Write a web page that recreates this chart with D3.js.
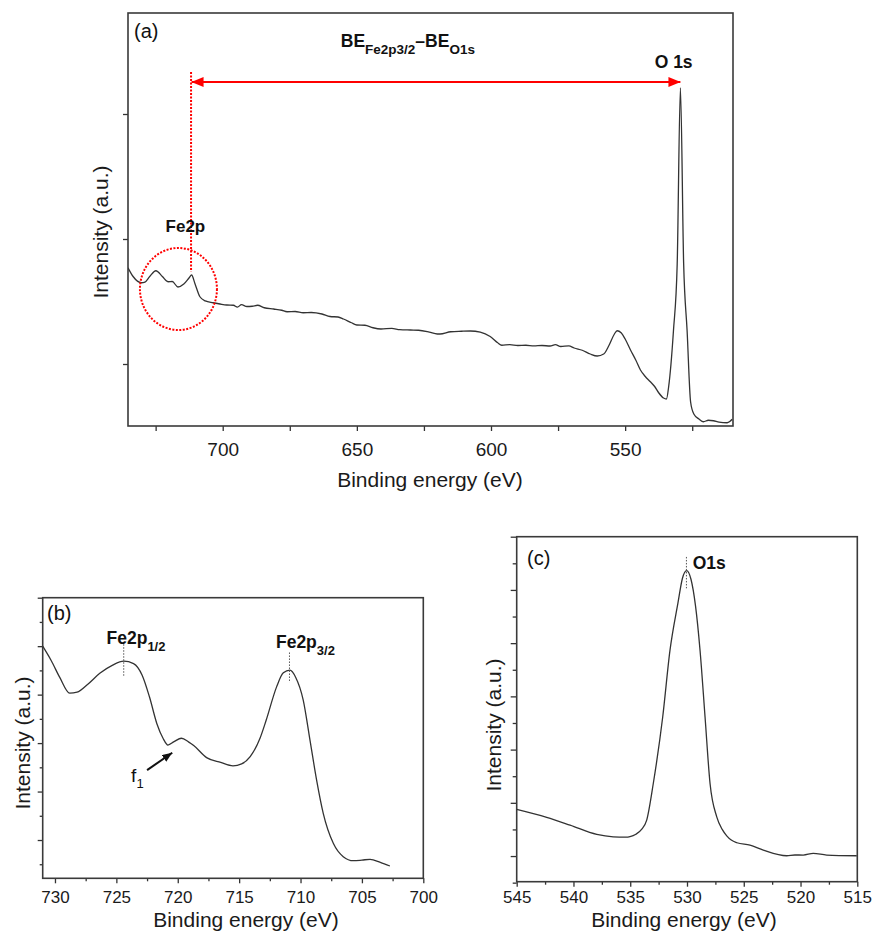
<!DOCTYPE html>
<html><head><meta charset="utf-8">
<script src="https://cdn.jsdelivr.net/npm/d3@7"></script>
<style>body{margin:0;background:#fff}text{font-family:"Liberation Sans",Arial,Helvetica,sans-serif}</style>
</head><body>
<svg id="chart" width="877" height="932"></svg>
<script>
// ---- Panel (a): survey spectrum ----
const surveyEnergy = [735.3,733.4,730.3,729.0,727.2,724.9,722.5,720.4,718.8,716.7,714.5,712.5,711.6,710.3,708.5,706.5,703.6,701,698.5,696,694.5,693,691,689,687,684.5,681,678,676,673,670,667,663,660,657,655,652,650,647,644,641,637,634,630,627,623,620,619,615,611,607.7,604,600.3,597.5,596,593,590,587,584,581,578,576,574,571,569,566,563,560.4,558,556,554,553,551.5,550,548,546,544.3,542.5,540.6,539,537.5,535.7,534.6,533.8,532.0,530.6,529.4,528.2,526.9,525.6,524.4,522.5,520.8,519,517.1,515,512,511,510.1];
const surveyIntensity = [1.77,1.70,1.65,1.655,1.70,1.746,1.70,1.658,1.66,1.616,1.64,1.69,1.712,1.64,1.538,1.505,1.49,1.48,1.472,1.47,1.455,1.475,1.46,1.462,1.47,1.45,1.44,1.43,1.418,1.42,1.41,1.412,1.40,1.38,1.376,1.36,1.33,1.312,1.31,1.29,1.28,1.285,1.275,1.272,1.27,1.255,1.24,1.24,1.258,1.262,1.264,1.255,1.22,1.17,1.15,1.155,1.148,1.15,1.145,1.148,1.144,1.155,1.14,1.145,1.128,1.11,1.08,1.064,1.08,1.15,1.24,1.266,1.25,1.2,1.112,1.03,0.952,0.90,0.858,0.82,0.77,0.728,0.72,0.816,1.264,1.80,3.208,1.808,1.264,0.696,0.60,0.56,0.538,0.55,0.546,0.535,0.530,0.54,0.558];
const surveyXTicks = [700,650,600,550];
const surveyXMinor = [725,675,625,575,525];
const surveyYTicks = [1,2,3];

// ---- Panel (b): Fe2p region ----
const fe2pEnergy = [731.0,730.3,729.6,728.8,728.2,727.3,726.35,725.3,724.4,723.6,722.9,722.3,721.7,721.2,720.8,720.3,719.7,719.1,718.7,717.65,716.5,715.5,714.8,714.1,713.3,712.8,711.95,711.4,710.86,710.4,709.78,709.23,708.69,708.15,707.33,706.52,705.7,705.0,704.34,703.5,702.72];
const fe2pIntensity = [5.00,4.70,4.35,4.03,4.05,4.22,4.44,4.61,4.69,4.64,4.40,3.95,3.40,3.10,2.96,3.03,3.10,3.02,2.95,2.70,2.60,2.53,2.57,2.72,3.10,3.47,4.16,4.45,4.505,4.36,3.887,3.062,2.237,1.551,0.932,0.656,0.573,0.585,0.602,0.54,0.464];
const fe2pXTicks = [730,725,720,715,710,705,700];
const fe2pXMinor = [727.5,722.5,717.5,712.5,707.5,702.5];
const fe2pYTicks = [1,2,3,4,5,6];
const fe2pYMinor = [0.5,1.5,2.5,3.5,4.5,5.5];

// ---- Panel (c): O1s region ----
const o1sEnergy = [545,542.36,540.3,537.95,536.5,535.4,535.02,534.5,534.0,533.55,532.97,532.14,531.5,530.8,530.4,530.03,529.65,529.25,528.85,528.41,527.97,527.38,526.9,526.5,526.1,525.6,524.45,523.28,521.22,520.5,519.76,518.88,517.7,515.05];
const o1sIntensity = [1.876,1.726,1.581,1.407,1.362,1.355,1.365,1.41,1.5,1.675,2.363,3.612,4.863,5.75,6.22,6.363,6.2,5.7,4.863,3.612,2.363,1.737,1.5,1.38,1.3,1.25,1.206,1.113,1.006,1.02,1.019,1.051,1.019,1.006];
const o1sXTicks = [545,540,535,530,525,520,515];
const o1sXMinor = [542.5,537.5,532.5,527.5,522.5,517.5];
const o1sYTicks = [1,2,3,4,5,6,7];
const o1sYMinor = [0.5,1.5,2.5,3.5,4.5,5.5,6.5];

const svg = d3.select("#chart");
const defs = svg.append("defs");
function marker(id, color, orient){
  defs.append("marker").attr("id",id).attr("viewBox","0 0 12 10").attr("refX",12).attr("refY",5)
    .attr("markerUnits","userSpaceOnUse").attr("markerWidth",12).attr("markerHeight",10).attr("orient",orient)
    .append("path").attr("d","M0,0L12,5L0,10z").attr("fill",color);
}
marker("redEnd","#ff0000","auto");
marker("redStart","#ff0000","auto-start-reverse");
defs.append("marker").attr("id","blkEnd").attr("viewBox","0 0 10 8").attr("refX",10).attr("refY",4)
  .attr("markerUnits","userSpaceOnUse").attr("markerWidth",10).attr("markerHeight",8).attr("orient","auto")
  .append("path").attr("d","M0,0L10,4L0,8z").attr("fill","#111");

function panel(c){
  const g = svg.append("g");
  const x = d3.scaleLinear().domain(c.xDomain).range([c.left,c.right]);
  const y = d3.scaleLinear().domain(c.yDomain).range([c.bottom,c.top]);
  const id = "clip"+c.name;
  defs.append("clipPath").attr("id",id).append("rect")
    .attr("x",c.left).attr("y",c.top).attr("width",c.right-c.left).attr("height",c.bottom-c.top);
  const xa = g.append("g").attr("transform",`translate(0,${c.bottom})`)
    .call(d3.axisBottom(x).tickValues(c.xTicks).tickSize(c.xTickLen).tickSizeOuter(0).tickPadding(c.xPad).tickFormat(d3.format("d")));
  xa.selectAll("text").attr("font-size",c.tickFont).attr("fill","#1a1a1a");
  if(c.xMinor){
    g.append("g").attr("transform",`translate(0,${c.bottom})`)
      .call(d3.axisBottom(x).tickValues(c.xMinor).tickSize(c.xMinorLen).tickSizeOuter(0).tickFormat(""));
  }
  g.append("g").attr("transform",`translate(${c.left},0)`)
    .call(d3.axisLeft(y).tickValues(c.yTicks).tickSize(c.yTickLen).tickSizeOuter(0).tickFormat(""));
  if(c.yMinor){
    g.append("g").attr("transform",`translate(${c.left},0)`)
      .call(d3.axisLeft(y).tickValues(c.yMinor).tickSize(c.yMinorLen).tickSizeOuter(0).tickFormat(""));
  }
  g.selectAll(".domain").remove();
  g.selectAll(".tick line").attr("stroke","#333").attr("stroke-width",1.3);
  g.append("rect").attr("x",c.left).attr("y",c.top).attr("width",c.right-c.left).attr("height",c.bottom-c.top)
    .attr("fill","none").attr("stroke","#3a3a3a").attr("stroke-width",1.6);
  const data = c.energy.map((e,i)=>[e,c.intensity[i]]);
  g.append("path").datum(data).attr("clip-path",`url(#${id})`)
    .attr("d",d3.line().x(d=>x(d[0])).y(d=>y(d[1])).curve(d3.curveMonotoneX))
    .attr("fill","none").attr("stroke","#333").attr("stroke-width",1.3);
  g.append("text").attr("x",c.xTitle[0]).attr("y",c.xTitle[1]).attr("text-anchor","middle")
    .attr("font-size",c.titleFont).attr("fill","#1a1a1a").text("Binding energy (eV)");
  g.append("text").attr("transform",`translate(${c.yTitle[0]},${c.yTitle[1]}) rotate(-90)`).attr("text-anchor","middle")
    .attr("font-size",c.titleFont).attr("fill","#1a1a1a").text("Intensity (a.u.)");
  g.append("text").attr("x",c.tag[0]).attr("y",c.tag[1]).attr("font-size",20).attr("fill","#111").text(c.tagText);
  return {g,x,y};
}

// Panel (a)
const A = panel({name:"a",left:128,right:733,top:13,bottom:426,xDomain:[735.3,509.8],yDomain:[0.504,3.808],
  xTicks:surveyXTicks,xMinor:surveyXMinor,xTickLen:5,xMinorLen:5,xPad:12,tickFont:19,
  yTicks:surveyYTicks,yTickLen:5,energy:surveyEnergy,intensity:surveyIntensity,
  xTitle:[430,487],yTitle:[108,232],titleFont:21,tag:[134,38],tagText:"(a)"});
{
  const {g,x,y} = A;
  const ay = y(3.256);
  g.append("line").attr("x1",x(711.6)).attr("x2",x(529.4)).attr("y1",ay).attr("y2",ay)
    .attr("stroke","#ff0000").attr("stroke-width",2)
    .attr("marker-start","url(#redStart)").attr("marker-end","url(#redEnd)");
  g.append("line").attr("x1",x(711.8)).attr("x2",x(711.8)).attr("y1",y(3.336)).attr("y2",y(1.738))
    .attr("stroke","#ff0000").attr("stroke-width",2).attr("stroke-dasharray","2,1.5");
  g.append("ellipse").attr("cx",x(716.5)).attr("cy",y(1.6)).attr("rx",38.5).attr("ry",41)
    .attr("fill","none").attr("stroke","#ff0000").attr("stroke-width",2).attr("stroke-dasharray","2,1.5");
  g.append("text").attr("x",x(721.3)).attr("y",y(2.06)).attr("font-size",17).attr("font-weight","bold").attr("fill","#111").text("Fe2p");
  g.append("text").attr("x",x(539)).attr("y",y(3.37)).attr("font-size",17.5).attr("font-weight","bold").attr("fill","#111").text("O 1s");
  const t = g.append("text").attr("x",x(656)).attr("y",y(3.54)).attr("font-size",17.5).attr("font-weight","bold").attr("fill","#111");
  t.append("tspan").text("BE");
  t.append("tspan").attr("font-size",13.5).attr("dy",7).text("Fe2p3/2");
  t.append("tspan").attr("dy",-7).text("\u2013BE");
  t.append("tspan").attr("font-size",13.5).attr("dy",7).text("O1s");
}

// Panel (b)
const B = panel({name:"b",left:42.7,right:423.3,top:597.7,bottom:878.3,xDomain:[731.0,700],yDomain:[0.21,6.0],
  xTicks:fe2pXTicks,xMinor:fe2pXMinor,xTickLen:5,xMinorLen:3,xPad:8,tickFont:17,
  yTicks:fe2pYTicks,yMinor:fe2pYMinor,yTickLen:5,yMinorLen:3,energy:fe2pEnergy,intensity:fe2pIntensity,
  xTitle:[246,927],yTitle:[30,743],titleFont:21,tag:[47,620],tagText:"(b)"});
{
  const {g,x,y} = B;
  const dl = (e,v1,v2)=>g.append("line").attr("x1",x(e)).attr("x2",x(e)).attr("y1",y(v1)).attr("y2",y(v2))
    .attr("stroke","#555").attr("stroke-width",1).attr("stroke-dasharray","1.5,1.5");
  dl(724.4,5.04,4.38); dl(710.9,4.87,4.25);
  const lab = (e,v,sub)=>{
    const t = g.append("text").attr("x",x(e)).attr("y",y(v)).attr("font-size",17.5).attr("font-weight","bold").attr("fill","#111");
    t.append("tspan").text("Fe2p");
    t.append("tspan").attr("font-size",13).attr("dy",7).text(sub);
  };
  lab(725.8,5.04,"1/2"); lab(712.0,4.97,"3/2");
  g.append("line").attr("x1",x(722.5)).attr("y1",y(2.443)).attr("x2",x(720.45)).attr("y2",y(2.80))
    .attr("stroke","#111").attr("stroke-width",2).attr("marker-end","url(#blkEnd)");
  const f = g.append("text").attr("x",x(723.8)).attr("y",y(2.2)).attr("font-size",19).attr("fill","#111");
  f.append("tspan").text("f");
  f.append("tspan").attr("font-size",13).attr("dy",6).text("1");
}

// Panel (c)
const C = panel({name:"c",left:516.7,right:857.3,top:536.7,bottom:881.7,xDomain:[545,515],yDomain:[0.518,7.0],
  xTicks:o1sXTicks,xMinor:o1sXMinor,xTickLen:5,xMinorLen:3,xPad:4,tickFont:17,
  yTicks:o1sYTicks,yMinor:o1sYMinor,yTickLen:6,yMinorLen:4,energy:o1sEnergy,intensity:o1sIntensity,
  xTitle:[684,927],yTitle:[501,725],titleFont:21,tag:[527,565],tagText:"(c)"});
{
  const {g,x,y} = C;
  g.append("line").attr("x1",x(530.05)).attr("x2",x(530.05)).attr("y1",y(6.62)).attr("y2",y(6.03))
    .attr("stroke","#555").attr("stroke-width",1).attr("stroke-dasharray","1.5,1.5");
  g.append("text").attr("x",x(529.5)).attr("y",y(6.39)).attr("font-size",17.5).attr("font-weight","bold").attr("fill","#111").text("O1s");
}
</script>
</body></html>
